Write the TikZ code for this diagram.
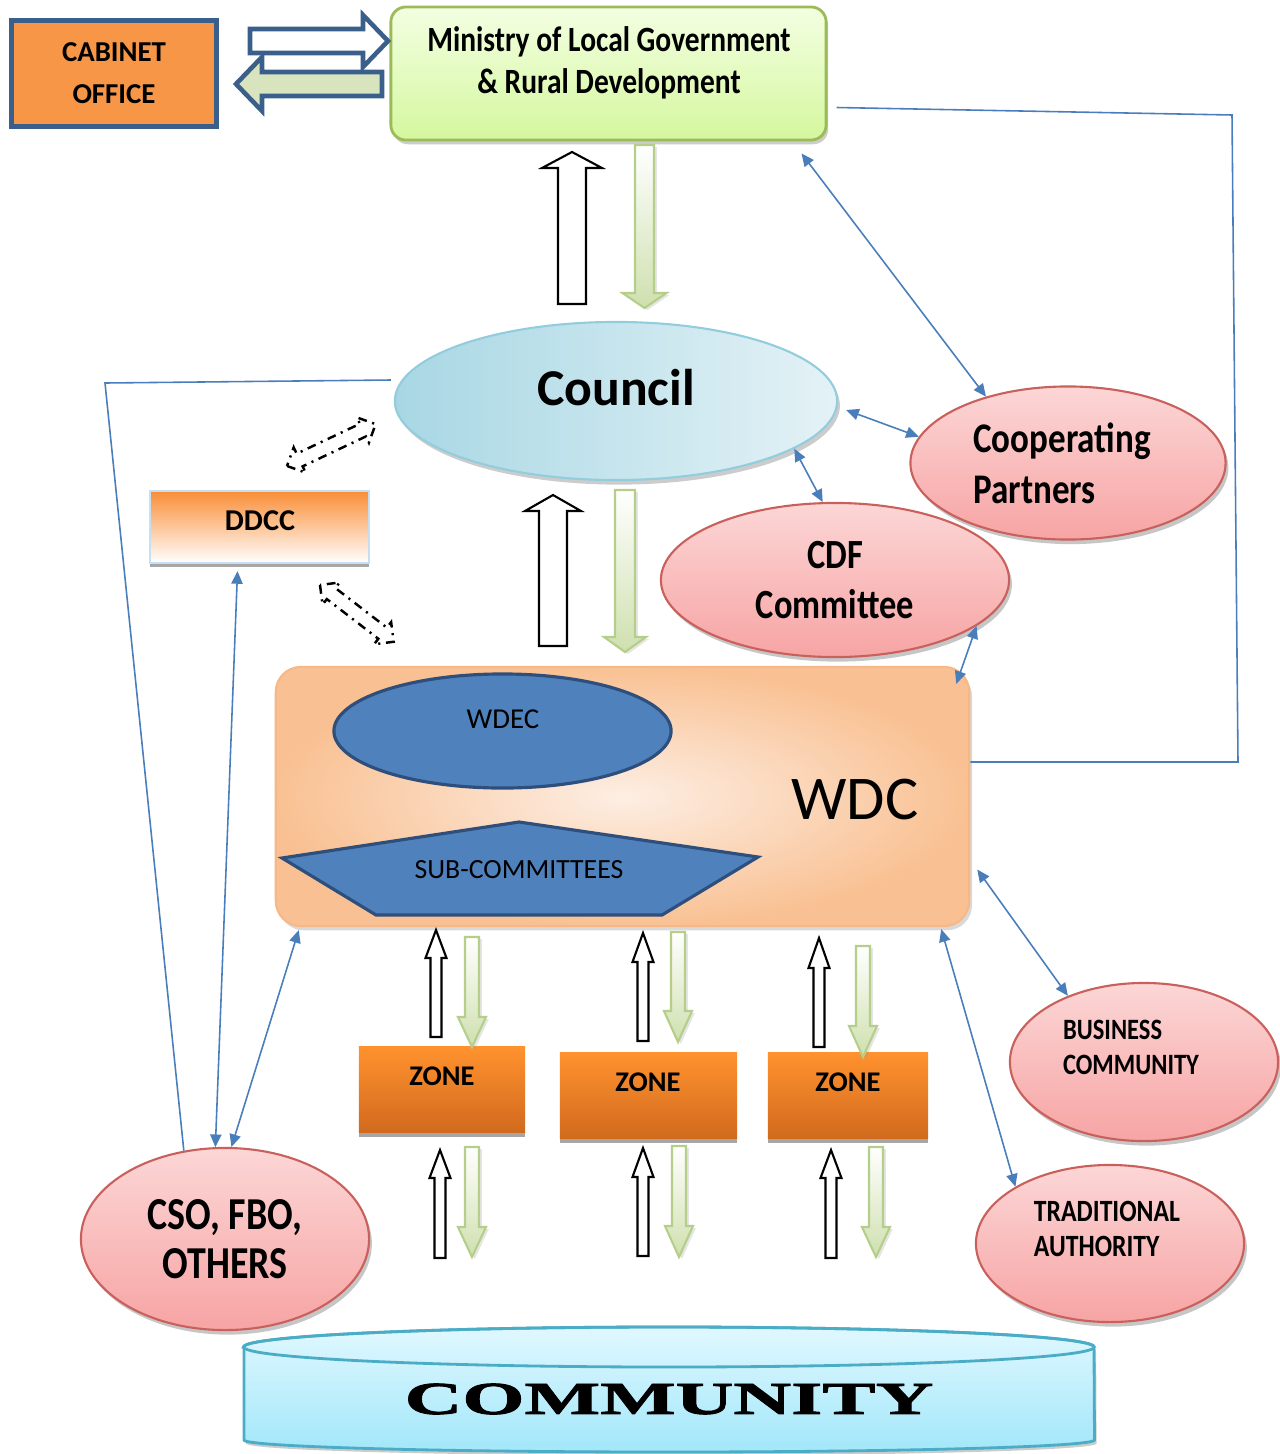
\documentclass[tikz,border=0pt]{standalone}
\usepackage{fontspec}
\setmainfont{Carlito}
\newfontfamily\narrowfont{Carlito}[FakeStretch=0.83]
\newfontfamily\widefont{Liberation Serif}[FakeStretch=1.75,FakeBold=2]
\usetikzlibrary{arrows.meta}
\usetikzlibrary{shapes}
\usetikzlibrary{backgrounds,shadows,calc}

\definecolor{cabfill}{HTML}{F79646}
\definecolor{cabline}{HTML}{3A5F8B}
\definecolor{cabgreen}{HTML}{D7E4BD}
\definecolor{mintop}{HTML}{F3FFE2}
\definecolor{minbot}{HTML}{D5F79E}
\definecolor{minline}{HTML}{9BBB59}
\definecolor{coudark}{HTML}{A8D7E4}
\definecolor{coulight}{HTML}{E4F2F6}
\definecolor{couline}{HTML}{93CDDD}
\definecolor{pinktop}{HTML}{FCD6D6}
\definecolor{pinkbot}{HTML}{F7A4A4}
\definecolor{pinkline}{HTML}{C9605C}
\definecolor{ddtop}{HTML}{F98E36}
\definecolor{ddline}{HTML}{C6DFF3}
\definecolor{wdcfill}{HTML}{F9C193}
\definecolor{wdclight}{HTML}{FDEEE3}
\definecolor{wdcline}{HTML}{F6B887}
\definecolor{wdecblue}{HTML}{4F81BD}
\definecolor{wdecline}{HTML}{2E4F7C}
\definecolor{zonetop}{HTML}{FF922E}
\definecolor{zonebot}{HTML}{D26A1E}
\definecolor{grnbot}{HTML}{CFE0AE}
\definecolor{grnline}{HTML}{B5CE8A}
\definecolor{linkblue}{HTML}{4A7EBB}
\definecolor{commtop}{HTML}{E0F8FF}
\definecolor{commbot}{HTML}{A2E7FA}
\definecolor{commline}{HTML}{4BACC6}

% block arrows: style, x, tip, head base, tail, body half, head half
\newcommand{\blockarrow}[7]{\draw[#1] (#2,#3) -- ({#2+#7},#4) -- ({#2+#6},#4) -- ({#2+#6},#5) -- ({#2-#6},#5) -- ({#2-#6},#4) -- ({#2-#7},#4) -- cycle;}
\newcommand{\blockarrowh}[7]{\draw[#1] (#3,#2) -- (#4,{#2-#7}) -- (#4,{#2-#6}) -- (#5,{#2-#6}) -- (#5,{#2+#6}) -- (#4,{#2+#6}) -- (#4,{#2+#7}) -- cycle;}

\begin{document}
\begin{tikzpicture}[x=0.01cm, y=-0.01cm,
    partner/.style={ellipse, draw=pinkline, line width=0.6pt, top color=pinktop, bottom color=pinkbot, inner sep=0pt,
        drop shadow={shadow xshift=0.8pt, shadow yshift=-1.3pt, opacity=0.45}},
    zone/.style={rectangle, top color=zonetop, bottom color=zonebot, minimum height=0.85cm,
        drop shadow={shadow xshift=0pt, shadow yshift=-1.3pt, fill=black!35, opacity=1}},
    zonetext/.style={font=\fontsize{8.1}{10}\selectfont\bfseries},
    link/.style={draw=linkblue, line width=0.45pt},
    both/.style={link, {Triangle[length=3.6pt,width=3.2pt]}-{Triangle[length=3.6pt,width=3.2pt]}},
    uparr/.style={draw=black, line width=0.6pt, fill=white},
    downarr/.style={draw=grnline, line width=0.6pt, top color=white, bottom color=grnbot,
        drop shadow={shadow xshift=0.8pt, shadow yshift=-0.6pt, fill=black!40, opacity=0.25}},
    dotarr/.style={draw=black, line width=0.7pt, dash pattern=on 2.5pt off 1.6pt on 0.6pt off 1.6pt},
]
    \useasboundingbox (0, 0) rectangle (1280, 1454);

    % Declare the boxes
    \node[draw=cabline, line width=1.4pt, fill=cabfill, minimum width=2.04cm, minimum height=1.06cm,
        font=\fontsize{8.2}{12}\selectfont\bfseries, align=center] at (114, 73.5) (CAB) {CABINET\\OFFICE};
    \node[draw=minline, line width=0.8pt, rounded corners=0.15cm, top color=mintop, bottom color=minbot,
        minimum width=4.35cm, minimum height=1.33cm,
        drop shadow={shadow xshift=0.6pt, shadow yshift=-1.2pt, opacity=0.4}] at (608.5, 73.5) (MIN) {};
    \node[font=\narrowfont\fontsize{10.1}{12}\selectfont\bfseries, align=center] at (609, 63) (MINt)
        {Ministry of Local Government\\\& Rural Development};

    \node[ellipse, draw=couline, line width=0.6pt, left color=coudark, right color=coulight, inner sep=0pt,
        minimum width=4.42cm, minimum height=1.58cm,
        drop shadow={shadow xshift=0.8pt, shadow yshift=-1.3pt, opacity=0.4}] at (616, 401) (COU) {};
    \node[font=\fontsize{14.7}{16}\selectfont\bfseries] at (616, 388) (COUt) {Council};

    \node[partner, minimum width=3.15cm, minimum height=1.53cm] at (1068, 463) (CP) {};
    \node[font=\narrowfont\fontsize{12}{14.5}\selectfont\bfseries, align=left] at (1062, 463) (CPt) {Cooperating\\Partners};
    \node[partner, minimum width=3.48cm, minimum height=1.54cm,
        font=\narrowfont\fontsize{11.8}{14}\selectfont\bfseries, align=center] at (835, 580) (CDF) {CDF\\Committee};

    \node[draw=ddline, line width=0.6pt, top color=ddtop, bottom color=white, minimum width=2.19cm, minimum height=0.72cm,
        drop shadow={shadow xshift=0pt, shadow yshift=-1.2pt, fill=black!35, opacity=1}] at (259.5, 527) (DDCC) {};
    \node[font=\fontsize{8.6}{10}\selectfont\bfseries] at (260, 521) (DDCCt) {DDCC};

    \node[draw=wdcline, line width=0.6pt, rounded corners=0.25cm, inner color=wdclight, outer color=wdcfill,
        minimum width=6.93cm, minimum height=2.59cm,
        drop shadow={shadow xshift=0.8pt, shadow yshift=-1.2pt, opacity=0.3}] at (622.5, 796.5) (WDC) {};
    \node[font=\fontsize{17.7}{20}\selectfont] at (855, 800) (WDCt) {WDC};
    \node[ellipse, draw=wdecline, line width=0.9pt, fill=wdecblue, inner sep=0pt,
        minimum width=3.37cm, minimum height=1.14cm] at (502.5, 731) (WDEC) {};
    \node[font=\fontsize{8.2}{10}\selectfont] at (503, 719) (WDECt) {WDEC};
    \draw[draw=wdecline, line width=0.9pt, fill=wdecblue] (282, 858) -- (519, 822) -- (758, 857) -- (662, 915) -- (376, 915) -- cycle;
    \node[font=\fontsize{7.9}{10}\selectfont] at (519, 870) (SUB) {SUB-COMMITTEES};

    \node[zone, minimum width=1.66cm] at (442, 1089.5) (Z1) {};
    \node[zone, minimum width=1.77cm] at (648.5, 1095.5) (Z2) {};
    \node[zone, minimum width=1.60cm] at (848, 1095.5) (Z3) {};
    \node[zonetext] at (442, 1076) (Z1t) {ZONE};
    \node[zonetext] at (648, 1082) (Z2t) {ZONE};
    \node[zonetext] at (848, 1082) (Z3t) {ZONE};

    \node[partner, minimum width=2.88cm, minimum height=1.82cm,
        font=\narrowfont\fontsize{13}{14}\selectfont\bfseries, align=center] at (225, 1239) (CSO) {CSO, FBO,\\OTHERS};
    \node[partner, minimum width=2.68cm, minimum height=1.58cm] at (1144, 1062) (BUS) {};
    \node[font=\narrowfont\fontsize{8.4}{10}\selectfont\bfseries, align=left] at (1131, 1047) (BUSt) {BUSINESS\\COMMUNITY};
    \node[partner, minimum width=2.68cm, minimum height=1.57cm] at (1110, 1243.5) (TRAD) {};
    \node[font=\narrowfont\fontsize{8.8}{10.2}\selectfont\bfseries, align=left] at (1107, 1229) (TRADt) {TRADITIONAL\\AUTHORITY};

    % Community drum
    \draw[draw=commline, line width=0.8pt, top color=commtop, bottom color=commbot,
        drop shadow={shadow xshift=0.6pt, shadow yshift=-1pt, opacity=0.4}]
        (244, 1347) -- (244, 1440) arc[start angle=180, end angle=360, x radius=4.25cm, y radius=0.12cm]
        -- (1094, 1347) arc[start angle=0, end angle=180, x radius=4.25cm, y radius=0.2cm] -- cycle;
    \draw[commline, line width=0.8pt] (669, 1347) ellipse[x radius=4.25cm, y radius=0.2cm];
    \node[font=\widefont\fontsize{13}{15}\selectfont\bfseries] at (669, 1399) (COMM) {COMMUNITY};

    % Declare block arrows
    \blockarrowh{draw=cabline, line width=1.3pt, fill=white}{41}{388}{363}{250}{12}{26}
    \blockarrowh{draw=cabline, line width=1.3pt, fill=cabgreen}{84}{236}{262}{382}{12}{27}
    \blockarrow{uparr}{572}{152}{168}{304}{14}{30}
    \blockarrow{downarr}{644.5}{308}{293}{145}{9.5}{22}
    \blockarrow{uparr}{553}{495}{511}{646}{14}{28}
    \blockarrow{downarr}{625}{652}{637}{490}{10}{21}
    % zone arrows
    \blockarrow{uparr}{436}{930}{958}{1037}{5.5}{10.5}
    \blockarrow{downarr}{472}{1047}{1017}{937}{7}{14}
    \blockarrow{uparr}{643}{933}{962}{1041}{5.5}{10.5}
    \blockarrow{downarr}{678}{1042}{1011}{932}{7}{14}
    \blockarrow{uparr}{819}{938}{968}{1047}{5.5}{10.5}
    \blockarrow{downarr}{863}{1057}{1026}{946}{7}{14}
    \blockarrow{uparr}{440}{1150}{1178}{1258}{5.5}{10.5}
    \blockarrow{downarr}{472}{1257}{1227}{1147}{7}{14}
    \blockarrow{uparr}{643}{1148}{1177}{1256}{5.5}{10.5}
    \blockarrow{downarr}{679}{1257}{1226}{1146}{7}{14}
    \blockarrow{uparr}{831}{1150}{1178}{1258}{5.5}{10.5}
    \blockarrow{downarr}{876}{1257}{1227}{1147}{7}{14}

    % dash-dot double arrows round DDCC
    \begin{scope}[shift={(287, 466)}, rotate=25.3]
        \draw[dotarr] (0, 0) -- (14, 14) -- (14, 7) -- (84, 7) -- (84, 14) -- (98, 0) -- (84, -14) -- (84, -7) -- (14, -7) -- (14, -14) -- cycle;
    \end{scope}
    \begin{scope}[shift={(320, 585)}, rotate=-37.6]
        \draw[dotarr] (0, 0) -- (14, 14) -- (14, 7) -- (79, 7) -- (79, 14) -- (93, 0) -- (79, -14) -- (79, -7) -- (14, -7) -- (14, -14) -- cycle;
    \end{scope}

    % Declare thin links
    \coordinate (MINr) at (1232, 115);
    \coordinate (WDCr) at (1238, 762);
    \coordinate (COUl) at (105, 383);
    \draw[link] ($(MIN.east)+(9,34)$) -- (MINr) -- (WDCr) -- (WDC.east |- WDCr);
    \draw[link] ($(COU.west)+(-3,-21)$) -- (COUl) -- (CSO.115);

    \draw[both] ($(MIN.south east)+(-26,12)$) -- (CP.141);
    \draw[both] ($(COU.east)+(8,9)$) -- (CP.170);
    \draw[both] (COU.-15) -- (CDF.99);
    \draw[both] (CDF.-18) -- ($(WDC.north east)+(-14,18)$);
    \draw[both] ($(DDCC.south)+(-22,7)$) -- (CSO.96);
    \draw[both] ($(WDC.south west)+(24,3)$) -- (CSO.86);
    \draw[both] ($(WDC.east)+(7,73)$) -- (BUS.139);
    \draw[both] ($(WDC.south east)+(-29,2)$) -- (TRAD.149);

\end{tikzpicture}
\end{document}
